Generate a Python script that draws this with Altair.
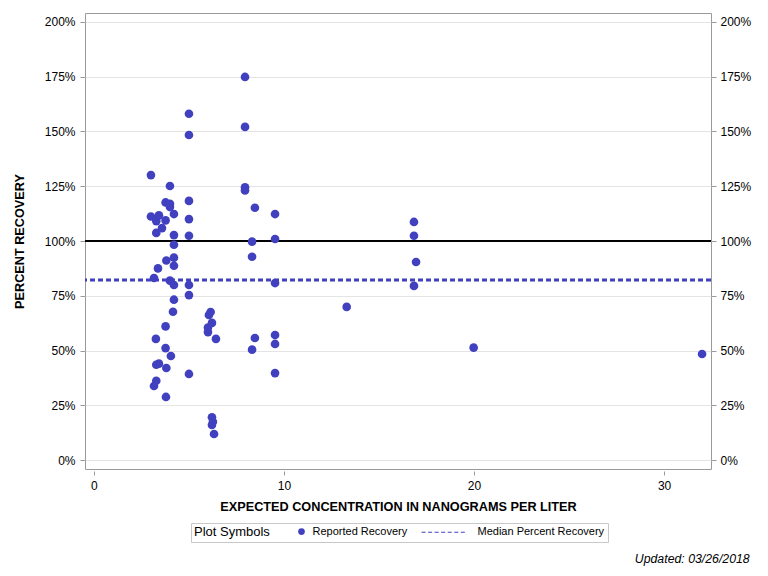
import altair as alt
import pandas as pd

# ---- data ----
conc = [7.95, 5.0, 5.0, 7.95, 3.0, 4.0, 7.95, 7.95, 8.47, 5.0,
        3.77, 4.0, 4.0, 4.21, 3.0, 3.42, 3.28, 3.77, 5.0, 3.58,
        3.28, 4.21, 5.0, 8.32, 4.21, 8.32, 4.21, 3.81, 4.21, 3.37,
        3.16, 4.0, 4.21, 5.0, 5.0, 4.21, 4.16, 6.14, 6.05, 6.21,
        6.0, 6.0, 6.42, 3.77, 8.47, 8.32, 9.53, 9.53, 9.53, 5.0,
        6.21, 6.26, 6.21, 6.32, 3.26, 3.77, 4.05, 3.28, 3.42, 3.81,
        3.28, 3.16, 3.79, 9.53, 9.53, 9.53, 16.84, 16.84, 16.95, 16.84,
        13.3, 19.98, 32.0]
recovery = [174.9, 158.1, 148.4, 152.1, 130.1, 125.1, 124.5, 123.1, 115.2, 118.3,
            117.6, 117.0, 115.5, 112.3, 111.2, 111.7, 109.1, 109.4, 110.0, 105.9,
            103.7, 102.7, 102.4, 99.7, 98.3, 92.8, 92.4, 91.1, 88.7, 87.5,
            83.1, 81.9, 79.9, 79.9, 75.3, 73.2, 67.7, 67.6, 66.2, 62.6,
            60.5, 58.4, 55.3, 61.0, 55.7, 50.4, 57.1, 53.0, 39.7, 39.3,
            19.5, 17.5, 16.0, 11.9, 55.3, 51.1, 47.5, 43.5, 44.0, 42.0,
            36.2, 33.8, 28.8, 112.3, 100.9, 80.8, 108.7, 102.4, 90.4, 79.5,
            69.9, 51.3, 48.4]
median_recovery = [82.2]
reference_recovery = [100]
series_names = ["Reported Recovery", "Median Percent Recovery"]
y_ticks = [0, 25, 50, 75, 100, 125, 150, 175, 200]
x_ticks = [0, 10, 20, 30]

pts_df = pd.DataFrame({"conc": conc, "rec": recovery, "series": series_names[0]})
med_df = pd.DataFrame({"rec": median_recovery})
ref_df = pd.DataFrame({"rec": reference_recovery})

FONT = "Liberation Sans"
PC = "#4141c0"
GRAY = "#9a9a9a"
X_DOM = [-0.47, 32.47]
Y_DOM = [-4.1, 204.1]


def dash_path(x0, x1, dash, gap, h):
    # dashed line drawn as thin filled rectangles (legend symbol style)
    segs = []
    x = x0
    while x < x1 - 1e-9:
        e = min(x + dash, x1)
        segs.append(f"M{x:.2f},{-h:.2f}H{e:.2f}V{h:.2f}H{x:.2f}Z")
        x += dash + gap
    return "".join(segs)


line_symbol = dash_path(-13.4, 0.1, 1.2, 0.75, 0.16)

x_enc = alt.X("conc:Q", scale=alt.Scale(domain=X_DOM, nice=False, zero=False),
              axis=alt.Axis(values=x_ticks, title="EXPECTED CONCENTRATION IN NANOGRAMS PER LITER",
                            grid=False, domain=False, offset=2, tickSize=4, labelPadding=5,
                            titlePadding=9))

legend = alt.Legend(
    title="Plot Symbols", orient="none", legendX=106, legendY=510, direction="horizontal",
    titleOrient="left", titleFont=FONT, titleFontSize=13, titleFontWeight="normal",
    titleColor="#000", titlePadding=26,
    labelFont=FONT, labelFontSize=11, labelColor="#000", labelOffset=5.5,
    symbolSize=45, columnPadding=10, strokeColor="#c8c8c8", padding=3,
    symbolFillColor=PC,
)

pts = alt.Chart(pts_df).mark_point(filled=True, size=75, color=PC, opacity=1).encode(
    x=x_enc,
    y=alt.Y("rec:Q", scale=alt.Scale(domain=Y_DOM, nice=False, zero=False),
            axis=alt.Axis(values=y_ticks, labelExpr="datum.value + '%'", title="PERCENT RECOVERY",
                          grid=True, gridColor="#e4e4e4", domain=False, tickSize=5,
                          labelPadding=5, titlePadding=18)),
    shape=alt.Shape("series:N", scale=alt.Scale(domain=series_names, range=["circle", line_symbol]),
                    legend=legend),
)

med = alt.Chart(med_df).mark_rule(color=PC, strokeWidth=3, strokeDash=[5, 3]).encode(
    y=alt.Y("rec:Q", scale=alt.Scale(domain=Y_DOM, nice=False, zero=False), axis=None),
)

ref = alt.Chart(ref_df).mark_rule(color="#000", strokeWidth=2).encode(
    y=alt.Y("rec:Q", scale=alt.Scale(domain=Y_DOM, nice=False, zero=False),
            axis=alt.Axis(orient="right", values=y_ticks, labelExpr="datum.value + '%'", title=None,
                          grid=False, domain=False, tickSize=5, labelPadding=4)),
)

chart = alt.layer(ref, med, pts).resolve_scale(y="independent").properties(
    width=626, height=456,
    autosize=alt.AutoSizeParams(type="none"),
    padding={"left": 77, "top": 5, "right": 49, "bottom": 99},
    title=alt.TitleParams(text="Updated: 03/26/2018", orient="bottom", anchor="end",
                          font=FONT, fontStyle="italic", fontWeight="normal", fontSize=12.3,
                          color="#000", dx=-1, offset=10),
).configure_view(stroke=GRAY, strokeWidth=1).configure_axis(
    labelFont=FONT, labelFontSize=12, labelColor="#000", tickColor=GRAY,
    titleFont=FONT, titleFontSize=12.7, titleFontWeight="bold", titleColor="#000",
)

chart.save("out.html", embed_options={"renderer": "svg", "actions": False})
